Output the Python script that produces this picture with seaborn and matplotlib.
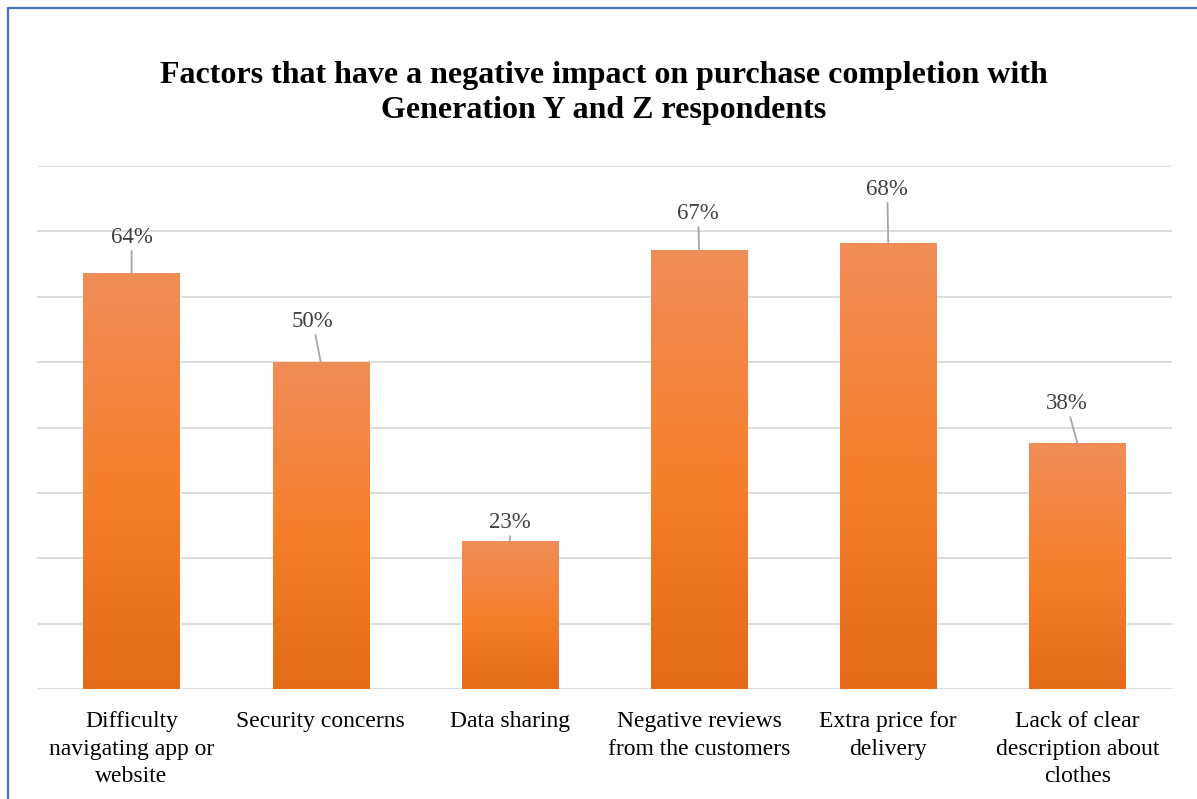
import numpy as np
import pandas as pd
import matplotlib
matplotlib.use("Agg")
import matplotlib.pyplot as plt
import seaborn as sns
from matplotlib.colors import LinearSegmentedColormap
from matplotlib.lines import Line2D
import matplotlib.patheffects as pe

categories = [
    "Difficulty\nnavigating app or\nwebsite",
    "Security concerns",
    "Data sharing",
    "Negative reviews\nfrom the customers",
    "Extra price for\ndelivery",
    "Lack of clear\ndescription about\nclothes",
]
values = [63.6, 50.0, 22.6, 67.1, 68.2, 37.6]
title = ("Factors that have a negative impact on purchase completion with\n"
         "Generation Y and Z respondents")

# label offsets in pixels (dx, dy) from bar top centre – layout only
label_offsets = [(0, 36), (-8, 41), (0, 19), (-1, 37), (-1, 54), (-11, 40)]

sns.set_theme(style="white")
plt.rcParams['font.family'] = ['Liberation Serif', 'DejaVu Serif']

fig = plt.figure(figsize=(11.97, 7.99), dpi=100)
ax = fig.add_axes([37/1197, 1-689/799, (1172-37)/1197, (689-166)/799])

df = pd.DataFrame({"cat": categories, "val": values})
sns.barplot(data=df, x="cat", y="val", color="#F4802E", width=0.51,
            saturation=1, ax=ax, zorder=3)

ax.set_xlim(-0.5, 5.5)
ax.set_ylim(0, 80)
ax.set_yticks(np.arange(0, 81, 10))
ax.yaxis.grid(True, color="#D9D9D9", linewidth=1.3, zorder=0)
ax.set_axisbelow(True)
ax.tick_params(axis='y', left=False, labelleft=False)
ax.tick_params(axis='x', bottom=False, pad=10)
ax.set_xticks(range(len(categories)))
ax.set_xticklabels(categories, fontsize=17, color="black")
for s in ax.spines.values():
    s.set_visible(False)
ax.set_xlabel("")
ax.set_ylabel("")

cmap = LinearSegmentedColormap.from_list(
    "og", [(0.0, "#E36B19"), (0.5, "#F5802E"), (1.0, "#F08D57")])
grad = np.linspace(0, 1, 256).reshape(-1, 1)
for p in ax.patches:
    x0, y0 = p.get_x(), p.get_y()
    w, h = p.get_width(), p.get_height()
    p.set_path_effects([pe.SimplePatchShadow(offset=(0, -1.5), shadow_rgbFace="#808080", alpha=0.35),
                        pe.Normal()])
    im = ax.imshow(grad, cmap=cmap, aspect='auto', origin='lower',
                   extent=[x0, x0 + w, y0, y0 + h], zorder=3.5)
    im.set_clip_path(p)
ax.set_xlim(-0.5, 5.5)
ax.set_ylim(0, 80)

for i, v in enumerate(values):
    dx, dy = label_offsets[i]
    ax.annotate(f"{v:.0f}%", xy=(i, v), xytext=(dx * 0.72, dy * 0.72),
                textcoords="offset points", ha="center", va="center",
                fontsize=16.5, color="#404040", zorder=5,
                arrowprops=dict(arrowstyle="-", color="#A6A6A6", lw=1.3,
                                shrinkA=0, shrinkB=0))

fig.text(604/1197, 1-93/799, title, ha="center", va="center",
         fontsize=23, fontweight="bold", color="black", linespacing=1.26)

# chart frame (blue) on top and left
fig.add_artist(Line2D([7.5/1197, 1], [1-7.5/799, 1-7.5/799], color="#4472C4", lw=1.6))
fig.add_artist(Line2D([7.5/1197, 7.5/1197], [0, 1-7.5/799], color="#4472C4", lw=1.6))

fig.canvas.draw()
for t in ax.get_xticklabels():
    t.set_linespacing(1.4)

fig.savefig("out.png", dpi=100)
